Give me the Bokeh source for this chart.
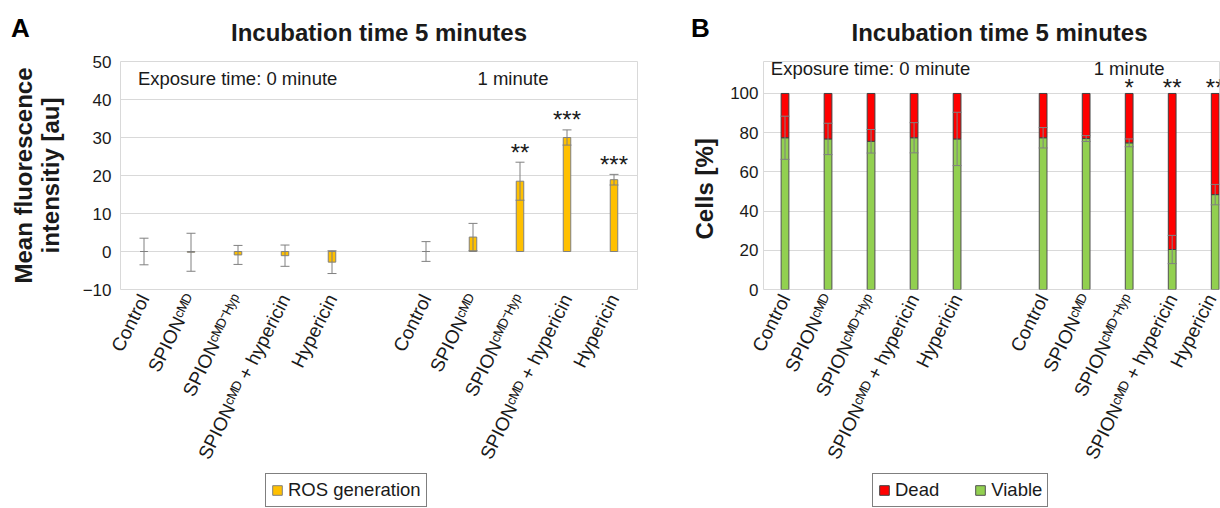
import math
from bokeh.plotting import figure
from bokeh.models import (ColumnDataSource, FixedTicker, Range1d, Whisker, TeeHead,
                          Legend, LegendItem, Div)
from bokeh.layouts import row, column
from bokeh.embed import file_html
from bokeh.resources import INLINE
from bokeh.core.properties import value

FONT = "Liberation Sans"
TXT = "#1a1a1a"

# ---------------- data ----------------
treatments = ["Control", "SPION\u1d9c\u1d39\u1d30", "SPION\u1d9c\u1d39\u1d30\u207b\u1d34\u02b8\u1d56",
              "SPION\u1d9c\u1d39\u1d30 + hypericin", "Hypericin"]
exposure_labels = ["Exposure time: 0 minute", "1 minute"]
panel_title = "Incubation time 5 minutes"
panel_letters = ["A", "B"]

ros_0min = [0.0, -0.2, -0.9, -1.1, -2.8]
ros_0min_err = [3.5, 5.0, 2.5, 2.8, 3.0]
ros_1min = [0.0, 3.8, 18.5, 30.0, 18.9]
ros_1min_err = [2.6, 3.6, 5.0, 2.0, 1.4]
ros_1min_sig = ["", "", "**", "***", "***"]

viable_0min = [77.4, 76.8, 75.6, 77.4, 76.8]
viable_0min_err = [11.0, 8.0, 6.0, 7.7, 13.6]
viable_1min = [77.4, 77.0, 74.8, 20.4, 48.4]
viable_1min_err = [5.2, 1.5, 2.0, 7.2, 5.2]
viable_1min_sig = ["", "", "*", "**", "**"]

ros_ticks = [-10, 0, 10, 20, 30, 40, 50]
cell_ticks = [0, 20, 40, 60, 80, 100]

# positions: two groups of five, one empty slot between them
xpos = [i for i in range(5)] + [i + 6 for i in range(5)]
xlabels = treatments + treatments

ROS_FILL, ROS_LINE = "#FFC000", "#808080"
DEAD_FILL, DEAD_LINE = "#FF0000", "#404040"
VIABLE_FILL, VIABLE_LINE = "#92D050", "#505050"


def style(p, yticks):
    p.outline_line_color = "#d9d9d9"
    p.xgrid.grid_line_color = None
    p.ygrid.grid_line_color = "#d9d9d9"
    p.ygrid.ticker = FixedTicker(ticks=yticks)
    p.yaxis.ticker = FixedTicker(ticks=yticks)
    p.xaxis.ticker = FixedTicker(ticks=xpos)
    p.xaxis.major_label_overrides = {float(x): l for x, l in zip(xpos, xlabels)}
    for ax in (p.xaxis[0], p.yaxis[0]):
        ax.axis_line_color = None
        ax.major_tick_line_color = None
        ax.minor_tick_line_color = None
        ax.major_tick_out = 0
        ax.major_tick_in = 0
        ax.minor_tick_out = 0
        ax.minor_tick_in = 0
        ax.major_label_text_font = FONT
        ax.major_label_text_color = TXT
    p.yaxis.major_label_text_font_size = "17px"
    p.xaxis.major_label_text_font_size = "19px"
    p.xaxis.major_label_orientation = 1.105
    p.xaxis.major_label_standoff = 6
    p.title.text_font = FONT
    p.title.text_font_size = "24px"
    p.title.text_font_style = "bold"
    p.title.text_color = TXT
    p.title.standoff = 32
    p.background_fill_color = "white"
    p.border_fill_color = "white"


def legend_fig(width, left, right, specs, vx, spacing):
    # a thin strip under the chart that only holds the legend box
    f = figure(width=width, height=36, x_range=Range1d(0, 1), y_range=Range1d(0, 1),
               output_backend="svg", toolbar_location=None, x_axis_type=None, y_axis_type=None,
               min_border_left=left, min_border_right=right, min_border_top=0, min_border_bottom=0)
    f.outline_line_color = None
    f.background_fill_color = "white"
    f.border_fill_color = "white"
    items = []
    for label, fill, line in specs:
        # legend proxy: one bar placed outside the strip's visible range
        r = f.vbar(x=[-1], top=[-1], bottom=[-2], width=0.1,
                   fill_color=fill, line_color=line, line_width=1)
        items.append(LegendItem(label=label, renderers=[r]))
    f.add_layout(Legend(items=items, location=(vx, 1), orientation="horizontal", margin=0,
                        padding=5, spacing=spacing, border_line_color="black",
                        border_line_width=1, background_fill_color="white",
                        label_text_font=FONT, label_text_font_size="18.5px", label_text_color=TXT,
                        glyph_width=12, glyph_height=12, label_height=15, label_standoff=5))
    return f


def letter_div(text, left):
    return Div(text=text, margin=0,
               styles={"position": "absolute", "left": f"{left}px", "top": "15px",
                       "font-family": FONT, "font-size": "26px", "font-weight": "bold",
                       "line-height": "1", "color": "black"})


# ---------------- panel A ----------------
pA = figure(width=668, height=472, x_range=Range1d(-0.5, 10.5), y_range=Range1d(-10, 50),
            output_backend="svg", toolbar_location=None, title=panel_title,
            min_border_left=120, min_border_right=31, min_border_top=61, min_border_bottom=183)
style(pA, ros_ticks)
pA.title.align = "center"
pA.yaxis.major_label_standoff = 9
pA.yaxis.major_label_overrides = {-10: "\u221210"}
pA.yaxis.axis_label = "Mean fluorescence\nintensitiy [au]"
pA.yaxis.axis_label_text_font = FONT
pA.yaxis.axis_label_text_font_size = "24px"
pA.yaxis.axis_label_text_font_style = "bold"
pA.yaxis.axis_label_text_line_height = 1.0
pA.yaxis.axis_label_text_color = TXT
pA.yaxis.axis_label_standoff = 16

ros = ros_0min + ros_1min
ros_err = ros_0min_err + ros_1min_err
srcA = ColumnDataSource(dict(x=xpos, mean=ros,
                             upper=[m + e for m, e in zip(ros, ros_err)],
                             lower=[m - e for m, e in zip(ros, ros_err)]))
pA.vbar(x="x", top="mean", bottom=0, width=0.16, source=srcA,
        fill_color=ROS_FILL, line_color=ROS_LINE, line_width=1)
pA.add_layout(Whisker(source=srcA, base="x", upper="upper", lower="lower",
                      line_color="#808080", line_width=1, level="annotation",
                      upper_head=TeeHead(size=9, line_color="#808080", line_width=1),
                      lower_head=TeeHead(size=9, line_color="#808080", line_width=1)))

sigA = ColumnDataSource(dict(x=xpos[5:], y=srcA.data["upper"][5:], t=ros_1min_sig))
pA.text(x="x", y="y", text="t", source=sigA, text_align="center", text_baseline="alphabetic",
        y_offset=-10, text_font=value(FONT), text_font_size="24px", text_color=TXT)
pA.text(x=[-0.13], y=[45.5], text=[exposure_labels[0]], text_align="left", text_baseline="middle",
        text_font=value(FONT), text_font_size="18.5px", text_color=TXT)
pA.text(x=[7.85], y=[45.5], text=[exposure_labels[1]], text_align="center", text_baseline="middle",
        text_font=value(FONT), text_font_size="18.5px", text_color=TXT)

# ---------------- panel B ----------------
pB = figure(width=552, height=472, x_range=Range1d(-0.5, 10.1), y_range=Range1d(0, 116.3),
            output_backend="svg", toolbar_location=None, title=panel_title,
            min_border_left=95, min_border_right=1, min_border_top=61, min_border_bottom=183)
style(pB, cell_ticks)
pB.title.align = "left"
pB.title.offset = 88
pB.yaxis.major_label_standoff = 5
# trailing no-break spaces move the centred label down to the 0-100 span
pB.yaxis.axis_label = "Cells [%]" + "\u00a0" * 4
pB.yaxis.axis_label_text_font = FONT
pB.yaxis.axis_label_text_font_size = "24px"
pB.yaxis.axis_label_text_font_style = "bold"
pB.yaxis.axis_label_text_color = TXT
pB.yaxis.axis_label_standoff = 9

viable = viable_0min + viable_1min
viable_err = viable_0min_err + viable_1min_err
dead = [100 - v for v in viable]
srcB = ColumnDataSource(dict(x=xpos, viable=viable, total=[v + d for v, d in zip(viable, dead)],
                             upper=[v + e for v, e in zip(viable, viable_err)],
                             lower=[v - e for v, e in zip(viable, viable_err)]))
pB.vbar(x="x", top="viable", bottom=0, width=0.18, source=srcB,
        fill_color=VIABLE_FILL, line_color=VIABLE_LINE, line_width=1)
pB.vbar(x="x", top="total", bottom="viable", width=0.18, source=srcB,
        fill_color=DEAD_FILL, line_color=DEAD_LINE, line_width=1)
pB.add_layout(Whisker(source=srcB, base="x", upper="upper", lower="lower",
                      line_color="#808080", line_width=1, level="annotation",
                      upper_head=TeeHead(size=9, line_color="#808080", line_width=1),
                      lower_head=TeeHead(size=9, line_color="#808080", line_width=1)))

sigB = ColumnDataSource(dict(x=xpos[5:], y=srcB.data["total"][5:], t=viable_1min_sig))
pB.text(x="x", y="y", text="t", source=sigB, text_align="center", text_baseline="alphabetic",
        y_offset=-6, text_font=value(FONT), text_font_size="24px", text_color=TXT)
pB.text(x=[-0.33], y=[112.8], text=[exposure_labels[0]], text_align="left", text_baseline="middle",
        text_font=value(FONT), text_font_size="18.5px", text_color=TXT)
pB.text(x=[8.0], y=[112.8], text=[exposure_labels[1]], text_align="center", text_baseline="middle",
        text_font=value(FONT), text_font_size="18.5px", text_color=TXT)

# ---------------- legends ----------------
lA = legend_fig(668, 120, 31, [("ROS generation", ROS_FILL, ROS_LINE)], 145, 14)
lB = legend_fig(552, 95, 1, [("Dead", DEAD_FILL, DEAD_LINE), ("Viable", VIABLE_FILL, VIABLE_LINE)],
                109, 35)

layout = column(row(pA, pB, letter_div(panel_letters[0], 11), letter_div(panel_letters[1], 691)),
                row(lA, lB))
with open("out.html", "w", encoding="utf-8") as f:
    f.write(file_html(layout, INLINE))
